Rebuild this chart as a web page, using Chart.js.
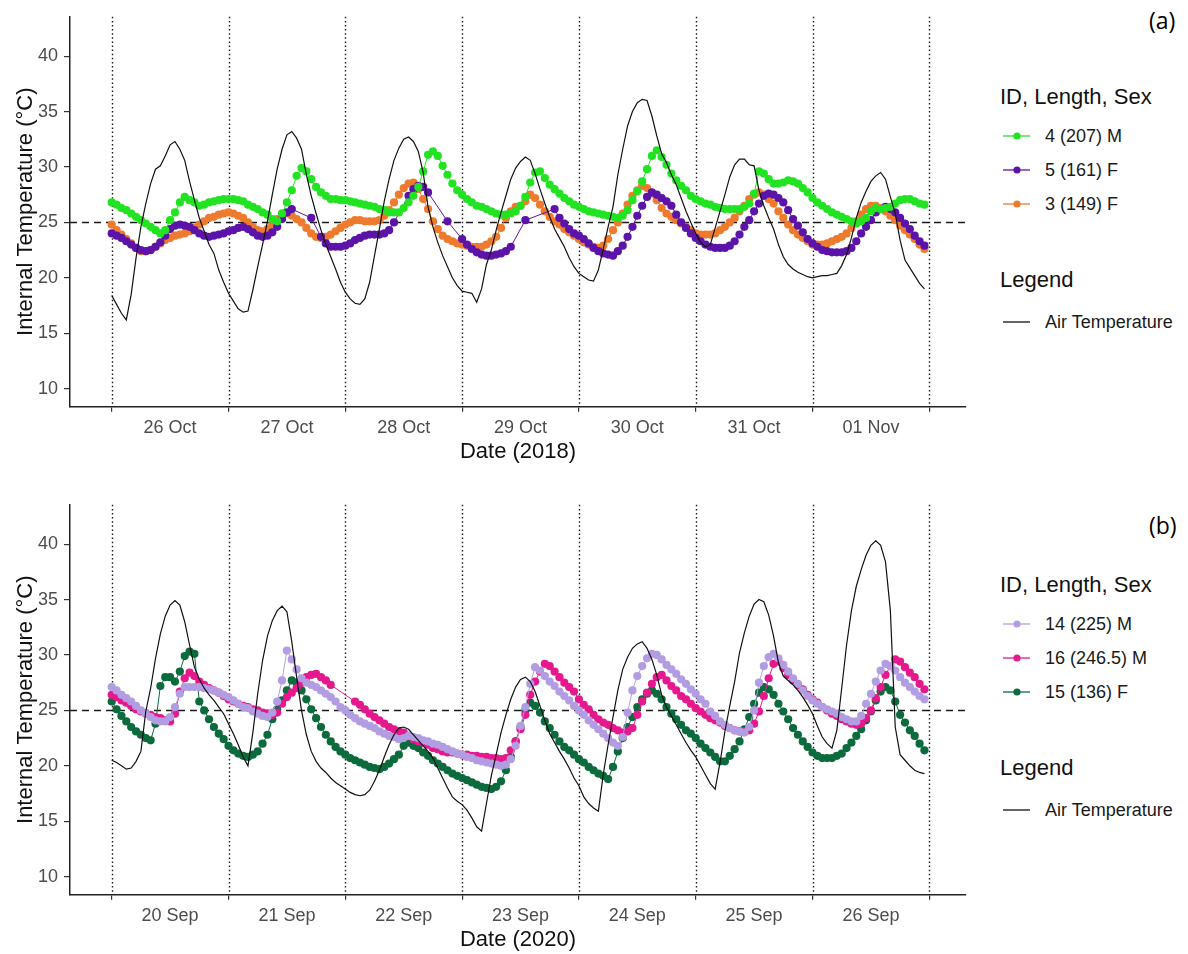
<!DOCTYPE html>
<html lang="en">
<head>
    <meta charset="UTF-8">
    <title>Internal and Air Temperature</title>
    <style>
        body {
            margin: 0;
            background: #fff;
            font-family: "Liberation Sans", Arial, sans-serif;
        }
        #page {
            position: relative;
            width: 1188px;
            height: 954px;
            overflow: hidden;
        }
        .panel {
            position: absolute;
            left: 0;
            width: 1188px;
            height: 470px;
        }
        .panel canvas {
            position: absolute;
            left: 0;
            top: 0;
        }
        .ltitle, .ltext, .lkey {
            position: absolute;
            white-space: nowrap;
            line-height: 22px;
            height: 22px;
        }
        .ltitle { left: 1000px; font-size: 22px; color: #111; }
        .ltext { left: 1045px; font-size: 18px; color: #1a1a1a; }
        .lkey { left: 1003px; }
        .tag {
            position: absolute;
            left: 1149px;
            font-family: "Open Sans", "Noto Sans", sans-serif;
            font-size: 23px;
            line-height: 30px;
            color: #000;
        }
    </style>
    <script src="https://cdn.jsdelivr.net/npm/chart.js@4.4.1/dist/chart.umd.min.js"></script>
</head>
<body>
<div id="page">
    <div class="panel" id="panelA" style="top:0px">
        <canvas id="chartA" width="980" height="470"></canvas>
    </div>
    <div class="panel" id="panelB" style="top:488px">
        <canvas id="chartB" width="980" height="470"></canvas>
    </div>
    <div class="tag" style="top:5px">(a)</div>
    <div class="tag" style="top:510px">(b)</div>
</div>

<script>
    // Hourly readings, hour 0 = midnight of the first day
    const daysOct = ['26 Oct', '27 Oct', '28 Oct', '29 Oct', '30 Oct', '31 Oct', '01 Nov'];
    const daysSep = ['20 Sep', '21 Sep', '22 Sep', '23 Sep', '24 Sep', '25 Sep', '26 Sep'];
    const yTicks = [10, 15, 20, 25, 30, 35, 40];
    const threshold = 25;

    // 2018 - fish 4 (207) M
    const fish4 = [
        26.8, 26.6, 26.3, 26.1, 25.8, 25.5, 25.2, 24.9, 24.6, 24.3, 24.0, 24.3, 25.2, 25.9, 26.8, 27.3, 27.0, 26.8, 26.5, 26.6, 26.8, 26.9, 27.0, 27.1,
        27.1, 27.1, 27.0, 26.9, 26.6, 26.4, 26.2, 25.9, 25.7, 25.3, 25.1, 25.8, 26.8, 27.9, 29.2, 29.9, 29.6, 28.9, 28.2, 27.7, 27.4, 27.1, 27.1, 27.0,
        27.0, 26.9, 26.8, 26.7, 26.6, 26.5, 26.4, 26.2, 26.1, 25.9, 25.9, 25.9, 26.3, 26.8, 27.4, 28.2, 29.6, 31.1, 31.4, 31.0, 30.1, 29.3, 28.5, 27.9,
        27.5, 27.1, 26.8, 26.5, 26.4, 26.2, 26.0, 25.8, 25.7, 25.7, 25.8, 26.0, 26.5, 27.3, 28.6, 29.5, 29.6, 29.0, 28.4, 28.0, 27.6, 27.2, 26.9, 26.6,
        26.4, 26.2, 26.0, 25.9, 25.8, 25.7, 25.6, 25.5, 25.4, 25.6, 26.1, 27.0, 27.8, 28.7, 29.8, 31.0, 31.5, 30.9, 30.2, 29.4, 28.8, 28.3, 27.9, 27.4,
        27.1, 26.9, 26.7, 26.6, 26.4, 26.3, 26.2, 26.2, 26.2, 26.2, 26.4, 26.7, 27.6, 29.6, 29.4, 28.9, 28.5, 28.5, 28.6, 28.8, 28.7, 28.5, 28.1, 27.7,
        27.2, 26.8, 26.5, 26.2, 25.9, 25.7, 25.5, 25.3, 25.1, 24.9, 25.1, 25.4, 26.0, 26.3, 26.2, 26.3, 26.4, 26.7, 27.0, 27.1, 27.1, 26.9, 26.7, 26.6
    ];
    // 2018 - fish 5 (161) F, null = no reading that hour
    const fish5 = [
        24.0, 23.8, 23.6, 23.3, 23.0, 22.7, 22.5, 22.4, 22.5, 22.8, 23.2, 23.8, 24.4, 24.7, 24.8, 24.7, 24.6, 24.3, 24.0, 23.8, 23.7, 23.8, 23.9, 24.0,
        24.2, 24.3, 24.5, 24.6, 24.4, 24.1, 23.8, 23.7, 23.8, 24.1, 24.6, 25.3, 25.9, 26.2, null, null, null, 25.4, null, 23.7, 23.1, 22.8, 22.8, 22.8,
        22.9, 23.1, 23.4, 23.6, 23.8, 23.9, 23.9, 23.9, 24.0, 24.3, 25.0, null, null, 27.4, 28.0, 28.3, 28.2, 27.7, null, null, null, 25.1, null, null,
        23.5, 23.0, 22.6, 22.3, 22.1, 22.0, 22.0, 22.1, 22.2, 22.4, 22.8, null, null, 25.2, null, null, null, null, null, 26.2, 25.4, 24.9, 24.4, 24.0,
        23.8, 23.5, 23.1, 22.7, 22.4, 22.2, 22.1, 22.0, 22.4, 22.9, 23.7, 24.6, 25.6, 26.5, 27.3, 27.7, 27.5, 27.2, 26.9, 26.5, 25.7, 25.0, 24.5, 24.0,
        23.6, 23.3, 23.0, 22.8, 22.7, 22.7, 22.7, 22.9, 23.3, 23.9, 24.6, 25.2, 26.0, 26.7, 27.4, 27.6, 27.5, 27.2, 26.8, 26.1, 25.3, 24.7, 24.1, 23.5,
        23.1, 22.8, 22.5, 22.4, 22.3, 22.3, 22.3, 22.4, 22.7, 23.3, 24.0, 24.6, 25.2, 25.9, 26.2, 26.4, 26.2, 25.9, 25.4, 24.9, 24.4, 23.8, 23.3, 22.9
    ];
    // 2018 - fish 3 (149) F
    const fish3 = [
        24.8, 24.3, 23.9, 23.5, 23.1, 22.7, 22.4, 22.4, 22.5, 22.8, 23.1, 23.4, 23.6, 23.8, 23.9, 24.0, 24.2, 24.5, 24.8, 25.1, 25.4, 25.5, 25.7, 25.8,
        25.9, 25.8, 25.6, 25.4, 25.0, 24.6, 24.3, 24.2, 24.4, 24.8, 25.3, 25.8, 25.8, 25.6, 25.3, 25.0, 24.5, 24.0, 23.7, 23.6, 23.7, 23.9, 24.2, 24.5,
        24.8, 25.0, 25.2, 25.2, 25.1, 25.1, 25.1, 25.2, 25.6, 26.1, 26.8, 27.5, 28.1, 28.5, 28.6, 28.0, 27.1, 26.2, 25.1, 24.4, 23.8, 23.5, 23.3, 23.1,
        23.0, 22.9, 22.8, 22.8, 22.8, 23.0, 23.3, 23.7, 24.5, 25.4, 26.0, 26.4, 26.5, 26.9, 27.5, 27.2, 26.6, 26.0, 25.5, 25.1, 24.8, 24.4, 24.1, 23.8,
        23.5, 23.2, 23.0, 22.8, 22.7, 22.9, 23.5, 24.3, 25.0, 25.8, 26.6, 27.4, 27.9, 28.3, 28.1, 27.6, 27.0, 26.3, 25.8, 25.5, 25.2, 24.9, 24.6, 24.3,
        24.0, 23.9, 23.9, 23.9, 24.0, 24.3, 24.6, 25.0, 25.4, 26.0, 26.5, 27.1, 27.5, 27.7, 27.5, 27.1, 26.7, 26.0, 25.4, 24.8, 24.3, 23.9, 23.6, 23.3,
        23.0, 23.0, 23.0, 23.1, 23.3, 23.5, 23.7, 24.0, 24.5, 25.1, 25.7, 26.2, 26.5, 26.5, 26.3, 26.0, 25.6, 25.2, 24.7, 24.3, 23.9, 23.5, 23.0, 22.6
    ];
    // 2018 - air temperature
    const airOct = [
        18.4, 17.6, 16.8, 16.2, 18.5, 21.8, 24.6, 26.7, 28.5, 29.8, 30.1, 31.0, 32.0, 32.3, 31.6, 30.6, 28.7, 27.0, 25.4, 24.2, 23.0, 22.2, 20.7, 19.6,
        18.6, 17.9, 17.2, 16.9, 17.0, 18.9, 21.0, 23.0, 25.1, 27.5, 29.8, 31.6, 32.9, 33.2, 32.6, 31.6, 29.3, 27.4, 25.8, 24.3, 23.0, 21.9, 20.8, 19.6,
        18.7, 18.1, 17.7, 17.6, 18.1, 19.6, 22.0, 24.4, 26.9, 28.9, 30.6, 31.7, 32.5, 32.7, 32.3, 31.4, 29.5, 26.4, 24.6, 23.2, 22.0, 21.0, 20.0, 19.3,
        18.8, 18.7, 18.6, 17.8, 19.0, 21.2, 22.5, 24.3, 25.9, 27.4, 28.9, 29.9, 30.5, 30.9, 30.6, 29.4, 28.0, 26.7, 25.5, 24.4, 23.6, 22.8, 21.8, 21.0,
        20.4, 20.1, 19.8, 19.7, 20.7, 22.6, 24.6, 26.4, 29.3, 31.6, 33.7, 35.0, 35.8, 36.1, 36.0, 34.6, 32.8, 31.2, 30.4, 29.3, 28.4, 27.2, 26.0, 25.0,
        24.0, 23.2, 22.8, 23.0, 24.5, 26.0, 27.5, 29.1, 30.2, 30.7, 30.7, 30.2, 30.1, 27.9, 26.5, 25.4, 24.4, 23.0, 21.9, 21.2, 20.8, 20.5, 20.3, 20.1,
        20.0, 20.1, 20.2, 20.2, 20.3, 20.4, 21.1, 22.1, 23.6, 25.4, 26.8, 27.8, 28.7, 29.2, 29.5, 28.9, 27.3, 25.8, 23.4, 21.6, 20.9, 20.2, 19.5, 19.0
    ];

    // 2020 - fish 14 (225) M
    const fish14 = [
        27.1, 26.8, 26.4, 26.1, 25.8, 25.4, 25.0, 24.7, 24.4, 24.1, 24.0, 24.0, 24.4, 25.3, 26.5, 27.1, 27.1, 27.1, 27.1, 27.0, 26.9, 26.8, 26.6, 26.4,
        26.2, 25.9, 25.6, 25.3, 25.2, 24.9, 24.7, 24.5, 24.4, 24.8, 25.8, 27.7, 30.4, 29.6, 28.7, 27.9, 27.5, 27.3, 27.1, 26.8, 26.5, 26.2, 25.8, 25.3,
        25.0, 24.6, 24.3, 24.0, 23.8, 23.6, 23.4, 23.1, 22.9, 22.7, 22.6, 22.4, 22.5, 22.7, 22.6, 22.5, 22.3, 22.2, 22.0, 21.9, 21.7, 21.5, 21.3, 21.1,
        21.0, 20.8, 20.7, 20.5, 20.4, 20.3, 20.2, 20.1, 20.0, 20.1, 20.6, 21.8, 23.6, 25.3, 27.4, 28.9, 28.6, 28.1, 27.6, 27.2, 26.7, 26.3, 25.9, 25.4,
        25.0, 24.6, 24.1, 23.7, 23.3, 22.9, 22.5, 22.1, 21.8, 22.6, 24.8, 26.8, 28.1, 29.0, 29.7, 30.1, 30.0, 29.6, 29.1, 28.7, 28.3, 27.8, 27.4, 26.9,
        26.5, 26.0, 25.6, 24.9, 24.5, 24.0, 23.7, 23.4, 23.2, 23.1, 23.0, 23.5, 25.0, 27.5, 29.0, 29.8, 30.1, 29.7, 29.1, 28.5, 27.9, 27.4, 26.8, 26.3,
        25.9, 25.6, 25.3, 25.1, 24.9, 24.7, 24.4, 24.2, 24.0, 24.0, 24.5, 25.6, 26.5, 27.6, 28.6, 29.2, 29.0, 28.6, 28.0, 27.5, 27.1, 26.7, 26.3, 26.0
    ];
    // 2020 - fish 16 (246.5) M
    const fish16 = [
        26.4, 26.2, 25.9, 25.7, 25.4, 25.1, 24.9, 24.7, 24.6, 24.4, 24.3, 24.1, 24.0, 24.7, 26.7, 27.9, 28.4, 28.1, 27.6, 27.3, 27.0, 26.8, 26.6, 26.3,
        26.0, 25.8, 25.6, 25.4, 25.3, 25.1, 25.0, 24.8, 24.7, 24.6, 24.8, 25.6, 26.2, 26.6, 27.0, 27.5, 28.0, 28.2, 28.3, 28.0, 27.7, 27.3, null, null,
        null, null, 25.8, 25.5, 25.1, 24.7, 24.4, 24.1, 23.8, 23.5, 23.3, 23.1, 23.0, 22.7, 22.4, 22.2, 22.1, 21.9, 21.6, 21.5, 21.3, 21.2, 21.2, 21.1,
        21.0, 21.0, 20.9, 20.9, 20.8, 20.8, 20.7, 20.7, 20.6, 20.7, 21.4, 22.2, 23.3, 24.6, 26.4, 27.6, 28.5, 29.2, 29.0, 28.5, 28.0, 27.5, 27.1, 26.7,
        26.0, 25.5, 25.1, 24.6, 24.2, 23.9, 23.7, 23.4, 23.2, 23.0, 23.1, 23.4, 24.6, 25.8, 26.6, 27.4, 28.0, 28.2, 27.7, 27.2, 26.8, 26.3, 26.0, 25.6,
        25.2, 24.9, 24.6, 24.3, 24.1, 23.9, 23.6, 23.4, 23.2, 23.1, 23.1, 23.2, 23.8, 24.9, 26.3, 27.9, 29.2, 29.4, 28.8, 28.2, 27.7, 27.3, 26.9, 26.4,
        26.0, 25.7, 25.3, 25.0, 24.7, 24.5, 24.2, 24.0, 23.8, 23.7, 23.8, 24.3, 25.0, 26.1, 27.1, 28.2, 29.0, 29.6, 29.4, 28.9, 28.4, 28.0, 27.4, 26.9
    ];
    // 2020 - fish 15 (136) F
    const fish15 = [
        25.8, 25.1, 24.5, 24.0, 23.5, 23.1, 22.8, 22.5, 22.3, 23.8, 27.2, 28.0, 28.0, 27.6, 28.5, 29.9, 30.3, 30.1, 25.8, 25.0, 24.2, 23.5, 22.9, 22.4,
        21.8, 21.4, 21.1, 20.9, 20.8, 21.0, 21.3, 22.0, 22.8, 24.2, 25.1, 25.9, 26.8, 27.7, 27.5, 26.8, 26.0, 25.1, 24.3, 23.5, 22.8, 22.2, 21.7, 21.3,
        21.0, 20.7, 20.5, 20.3, 20.1, 19.9, 19.8, 19.7, 19.9, 20.2, 20.6, 21.0, 21.8, 22.1, 21.8, 21.6, 21.2, 20.9, 20.5, 20.2, 19.9, 19.6, 19.3, 19.1,
        18.9, 18.7, 18.5, 18.3, 18.1, 18.0, 17.9, 18.1, 18.6, 19.6, 20.8, 22.2, 23.5, 25.0, 25.7, 25.4, 24.8, 24.0, 23.4, 22.8, 22.2, 21.7, 21.4, 21.0,
        20.6, 20.3, 19.9, 19.6, 19.3, 19.1, 18.8, 19.9, 21.3, 22.5, 23.5, 24.4, 25.3, 26.0, 26.5, 26.8, 26.5, 26.0, 25.3, 24.7, 24.2, 23.7, 23.2, 22.9,
        22.5, 22.0, 21.6, 21.2, 20.8, 20.4, 20.4, 20.9, 21.5, 22.2, 23.3, 24.4, 25.6, 26.6, 27.1, 26.9, 26.4, 25.6, 24.9, 24.2, 23.4, 22.8, 22.2, 21.7,
        21.2, 20.9, 20.7, 20.7, 20.7, 20.9, 21.1, 21.6, 22.1, 22.7, 23.3, 24.1, 24.9, 25.9, 26.7, 27.1, 26.8, 25.8, 24.6, 23.9, 23.2, 22.7, 22.0, 21.4
    ];
    // 2020 - air temperature
    const airSep = [
        20.5, 20.3, 20.0, 19.7, 19.8, 20.4, 21.3, 24.9, 27.0, 29.7, 31.9, 33.5, 34.5, 34.9, 34.5, 33.0, 30.9, 28.9, 27.8, 27.0, 26.4, 25.9, 25.3, 24.7,
        23.8, 22.9, 21.9, 20.8, 20.0, 23.0, 26.5, 29.5, 31.7, 33.1, 34.0, 34.4, 33.9, 31.2, 28.0, 25.0, 22.8, 21.3, 20.4, 19.8, 19.4, 18.9, 18.5, 18.2,
        17.9, 17.6, 17.4, 17.3, 17.4, 17.8, 18.6, 19.6, 20.8, 21.9, 22.8, 23.4, 23.5, 23.3, 22.8, 22.3, 21.8, 21.3, 20.7, 19.8, 18.9, 18.0, 17.2, 16.8,
        16.5, 16.0, 15.3, 14.5, 14.1, 16.6, 19.1, 21.0, 23.0, 24.6, 26.0, 27.1, 27.8, 28.0, 27.6, 26.7, 25.4, 24.1, 22.9, 22.1, 21.3, 20.6, 19.8, 18.9,
        18.2, 17.2, 16.6, 16.2, 15.9, 19.2, 21.9, 24.4, 26.8, 28.7, 29.8, 30.6, 31.0, 31.2, 30.6, 29.6, 28.2, 26.4, 25.3, 24.5, 23.7, 22.9, 22.1, 21.4,
        20.8, 20.0, 19.2, 18.4, 17.9, 20.3, 23.1, 25.4, 27.6, 30.2, 32.0, 33.5, 34.6, 35.0, 34.8, 33.6, 31.7, 29.3, 28.1, 27.7, 27.3, 26.8, 26.2, 25.5,
        24.7, 23.6, 22.6, 22.0, 21.6, 23.2, 27.0, 30.9, 34.0, 36.2, 37.7, 39.0, 39.9, 40.3, 39.9, 38.4, 34.0, 23.5, 21.0, 20.5, 20.0, 19.6, 19.4, 19.3
    ];

    const seriesOct = [
        { label: '4 (207) M', color: '#22e322', values: fish4 },
        { label: '5 (161) F', color: '#5b13a8', values: fish5 },
        { label: '3 (149) F', color: '#ee7b2d', values: fish3 }
    ];
    const seriesSep = [
        { label: '14 (225) M', color: '#b39de2', values: fish14 },
        { label: '16 (246.5) M', color: '#e6188e', values: fish16 },
        { label: '15 (136) F', color: '#0b6b3c', values: fish15 }
    ];

    Chart.defaults.font.family = '"Liberation Sans", Arial, sans-serif';

    function toPoints(values) {
        return values.map((v, i) => ({ x: i, y: v }));
    }

    // dotted lines at each midnight, dashed line at 25 °C
    const refLines = {
        id: 'refLines',
        beforeDatasetsDraw(chart) {
            const { ctx, chartArea: area, scales: { x, y } } = chart;
            const days = chart.options.plugins.refLines.days;
            ctx.save();
            ctx.strokeStyle = '#1a1a1a';
            ctx.lineWidth = 1.4;
            ctx.setLineDash([1.5, 2.6]);
            for (let d = 0; d <= days; d++) {
                const px = Math.round(x.getPixelForValue(d * 24)) + 0.5;
                ctx.beginPath();
                ctx.moveTo(px, area.top);
                ctx.lineTo(px, area.bottom);
                ctx.stroke();
            }
            ctx.lineWidth = 1.3;
            ctx.setLineDash([7, 5]);
            const py = Math.round(y.getPixelForValue(threshold)) + 0.5;
            ctx.beginPath();
            ctx.moveTo(area.left, py);
            ctx.lineTo(area.right, py);
            ctx.stroke();
            ctx.restore();
        }
    };

    function makeChart(canvasId, series, air, dayLabels, xTitle) {
        const tickHours = [];
        for (let h = 0; h <= dayLabels.length * 24; h += 12) tickHours.push(h);

        const datasets = [{
            label: 'Air Temperature',
            data: toPoints(air),
            borderColor: '#111',
            borderWidth: 1.2,
            pointRadius: 0,
            tension: 0
        }];
        // legend order is kept in the HTML; here the later fish sit underneath
        series.forEach(s => {
            datasets.push({
                label: s.label,
                data: toPoints(s.values),
                borderColor: s.color,
                backgroundColor: s.color,
                borderWidth: 1,
                pointRadius: 4.1,
                pointBorderWidth: 0,
                spanGaps: true
            });
        });

        return new Chart(document.getElementById(canvasId), {
            type: 'line',
            data: { datasets },
            options: {
                responsive: false,
                animation: false,
                layout: { padding: { left: 0, right: 14, top: 10, bottom: 0 } },
                plugins: {
                    legend: { display: false },
                    tooltip: { enabled: false },
                    refLines: { days: dayLabels.length }
                },
                scales: {
                    x: {
                        type: 'linear',
                        min: -8.57,
                        max: 175.54,
                        afterBuildTicks: s => { s.ticks = tickHours.map(v => ({ value: v })); },
                        afterFit: s => { s.height = 63.3; },
                        ticks: {
                            autoSkip: false,
                            maxRotation: 0,
                            padding: 6,
                            color: '#4d4d4d',
                            font: { size: 18 },
                            callback: v => (v % 24 === 12 ? dayLabels[(v - 12) / 24] : '')
                        },
                        grid: {
                            drawOnChartArea: false,
                            tickLength: 5,
                            lineWidth: 1.2,
                            color: ctx => (ctx.tick && ctx.tick.value % 24 === 0 ? '#333' : 'rgba(0,0,0,0)')
                        },
                        border: { color: '#222', width: 1.5 },
                        title: {
                            display: true,
                            text: xTitle,
                            color: '#111',
                            font: { size: 22 },
                            padding: { top: 0, bottom: 5 }
                        }
                    },
                    y: {
                        min: 8.37,
                        max: 43.55,
                        afterBuildTicks: s => { s.ticks = yTicks.map(v => ({ value: v })); },
                        afterFit: s => { s.width = 70; },
                        ticks: { padding: 6, color: '#4d4d4d', font: { size: 18 } },
                        grid: { drawOnChartArea: false, tickLength: 6, color: '#333', lineWidth: 1.2 },
                        border: { color: '#222', width: 1.5 },
                        title: {
                            display: true,
                            text: 'Internal Temperature (°C)',
                            color: '#111',
                            font: { size: 22 },
                            padding: { top: 13, bottom: 0 }
                        }
                    }
                }
            },
            plugins: [refLines]
        });
    }

    function keySvg(color, withDot) {
        const dot = withDot ? `<circle cx="14" cy="11" r="3.6" fill="${color}"/>` : '';
        return `<svg width="30" height="22"><line x1="0" y1="11" x2="27" y2="11" stroke="${color}" stroke-width="1.3"/>${dot}</svg>`;
    }

    function buildLegend(panelId, series) {
        const panel = document.getElementById(panelId);
        let html = '<div class="ltitle" style="top:86px">ID, Length, Sex</div>';
        series.forEach((s, i) => {
            const top = 125 + i * 34;
            html += `<div class="lkey" style="top:${top}px">${keySvg(s.color, true)}</div>`;
            html += `<div class="ltext" style="top:${top}px">${s.label}</div>`;
        });
        html += '<div class="ltitle" style="top:269px">Legend</div>';
        html += `<div class="lkey" style="top:311px">${keySvg('#111', false)}</div>`;
        html += '<div class="ltext" style="top:311px">Air Temperature</div>';
        panel.insertAdjacentHTML('beforeend', html);
    }

    window.onload = function() {
        makeChart('chartA', seriesOct, airOct, daysOct, 'Date (2018)');
        makeChart('chartB', seriesSep, airSep, daysSep, 'Date (2020)');
        buildLegend('panelA', seriesOct);
        buildLegend('panelB', seriesSep);
    };
</script>
</body>
</html>
